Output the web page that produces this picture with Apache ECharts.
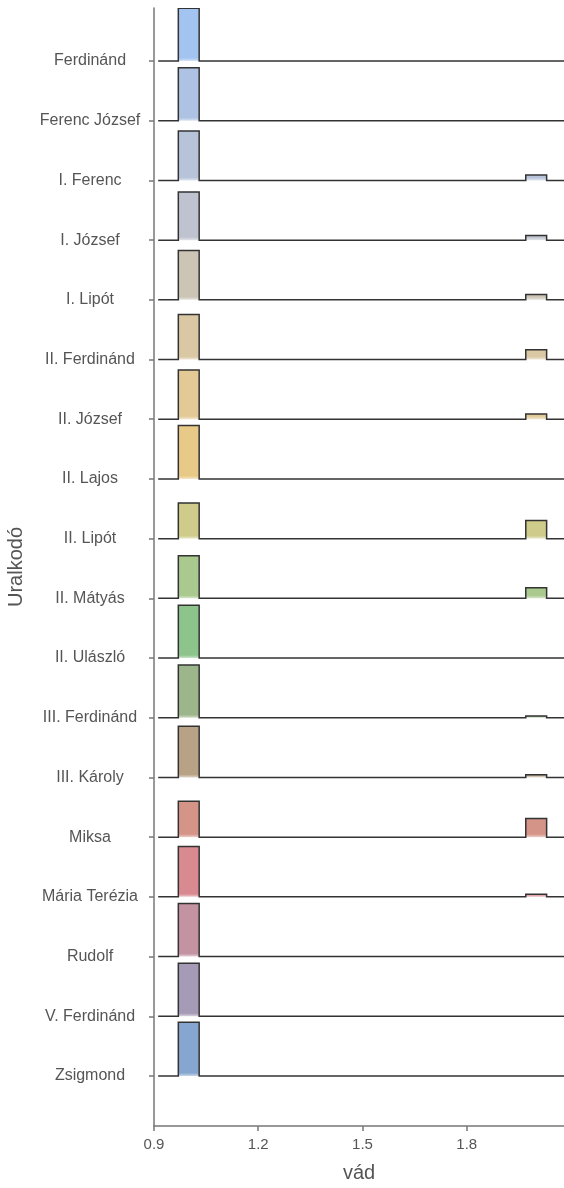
<!DOCTYPE html>
<html>
<head>
<meta charset="utf-8">
<script src="https://cdn.jsdelivr.net/npm/echarts@6/dist/echarts.min.js"></script>
<style>
html,body{margin:0;padding:0;background:#fff;}
#chart{width:564px;height:1188px;}
</style>
</head>
<body>
<div id="chart"></div>
<script>
// Rulers, top to bottom as drawn
const rulers = ["Ferdinánd","Ferenc József","I. Ferenc","I. József","I. Lipót","II. Ferdinánd","II. József","II. Lajos","II. Lipót","II. Mátyás","II. Ulászló","III. Ferdinánd","III. Károly","Miksa","Mária Terézia","Rudolf","V. Ferdinánd","Zsigmond"];
// ridge heights (in ridge units) of the block around vád = 1
const heightAt1 = [0.883,0.888,0.826,0.804,0.826,0.754,0.826,0.893,0.598,0.715,0.883,0.883,0.859,0.603,0.843,0.888,0.888,0.900];
// ridge heights of the block around vád = 2
const heightAt2 = [0,0,0.089,0.079,0.089,0.162,0.089,0,0.302,0.179,0,0.028,0.045,0.313,0.042,0,0,0];
const colors = ["#a3c4f0","#aec3e3","#b6c3d9","#bfc3cf","#ccc5b6","#dac7a3","#e3c996","#e8c987","#cfcb8b","#aac98e","#8dc48b","#9db58a","#b8a286","#d49488","#d98a90","#c493a2","#a59bb6","#86a6cf"];
const block1 = [0.97, 1.03];
const block2 = [1.97, 2.03];
const xRange = [0.912, 2.08];
const xTicks = [0.9, 1.2, 1.5, 1.8];

const n = rulers.length;

function lighten(hex, t) {
  const v = parseInt(hex.slice(1), 16);
  const r = (v >> 16) & 255, g = (v >> 8) & 255, b = v & 255;
  const m = c => Math.round(c + (255 - c) * t);
  return 'rgb(' + m(r) + ',' + m(g) + ',' + m(b) + ')';
}

function renderRidge(params, api) {
  const i = api.value(0);
  const b = n - 1 - i;
  const h1 = heightAt1[i], h2 = heightAt2[i];
  const outline = [
    [xRange[0], b], [block1[0], b], [block1[0], b + h1], [block1[1], b + h1], [block1[1], b],
    [block2[0], b], [block2[0], b + h2], [block2[1], b + h2], [block2[1], b], [xRange[1], b]
  ].map(p => api.coord(p));
  const children = [];
  const blocks = [[block1, h1], [block2, h2]];
  blocks.forEach(([blk, h]) => {
    if (h <= 0) return;
    const pts = [[blk[0], b], [blk[0], b + h], [blk[1], b + h], [blk[1], b]].map(p => api.coord(p));
    children.push({
      type: 'polygon',
      shape: {points: pts},
      style: {
        fill: {type: 'linear', x: 0, y: 0, x2: 0, y2: 1, colorStops: [
          {offset: 0, color: colors[i]},
          {offset: Math.max(0, 1 - 3 / Math.max(3, Math.abs(pts[0][1] - pts[1][1]))), color: colors[i]},
          {offset: 1, color: lighten(colors[i], 0.55)}
        ]},
        stroke: null
      }
    });
  });
  children.push({
    type: 'polyline',
    shape: {points: outline},
    style: {fill: null, stroke: '#333', lineWidth: 1.5, lineJoin: 'miter'}
  });
  return {type: 'group', children};
}

const chart = echarts.init(document.getElementById('chart'), null, {renderer: 'canvas'});
chart.setOption({
  animation: false,
  backgroundColor: '#fff',
  grid: {left: 154, right: 0, top: 8, bottom: 62, containLabel: false, outerBoundsMode: 'none'},
  xAxis: {
    type: 'value', min: 0.9, max: 2.08,
    name: 'vád', nameLocation: 'middle', nameGap: 37,
    nameTextStyle: {fontFamily: 'Liberation Sans, Arial', fontSize: 20, color: '#555'},
    axisLine: {show: true, onZero: false, lineStyle: {color: '#777', width: 1.5}},
    axisTick: {show: true, length: 5, customValues: xTicks, lineStyle: {color: '#777', width: 1.5}},
    axisLabel: {customValues: xTicks, margin: 11, fontFamily: 'Liberation Sans, Arial', fontSize: 15, color: '#555',
      formatter: v => Number(v).toFixed(1)},
    splitLine: {show: false}
  },
  yAxis: {
    type: 'value', min: -0.838, max: 17.888,
    name: 'Uralkodó', nameLocation: 'middle', nameGap: 128, nameRotate: 90,
    nameTextStyle: {fontFamily: 'Liberation Sans, Arial', fontSize: 20, color: '#555'},
    axisLine: {show: true, onZero: false, lineStyle: {color: '#777', width: 1.5}},
    axisTick: {show: true, length: 5, customValues: rulers.map((_, i) => i), lineStyle: {color: '#777', width: 1.5}},
    axisLabel: {customValues: rulers.map((_, i) => i), align: 'center', margin: 64,
      fontFamily: 'Liberation Sans, Arial', fontSize: 16, color: '#555',
      formatter: v => rulers[n - 1 - Math.round(v)]},
    splitLine: {show: false}
  },
  series: [{
    type: 'custom',
    renderItem: renderRidge,
    clip: true,
    silent: true,
    encode: {x: -1, y: -1},
    data: rulers.map((_, i) => [i])
  }]
});
</script>
</body>
</html>
